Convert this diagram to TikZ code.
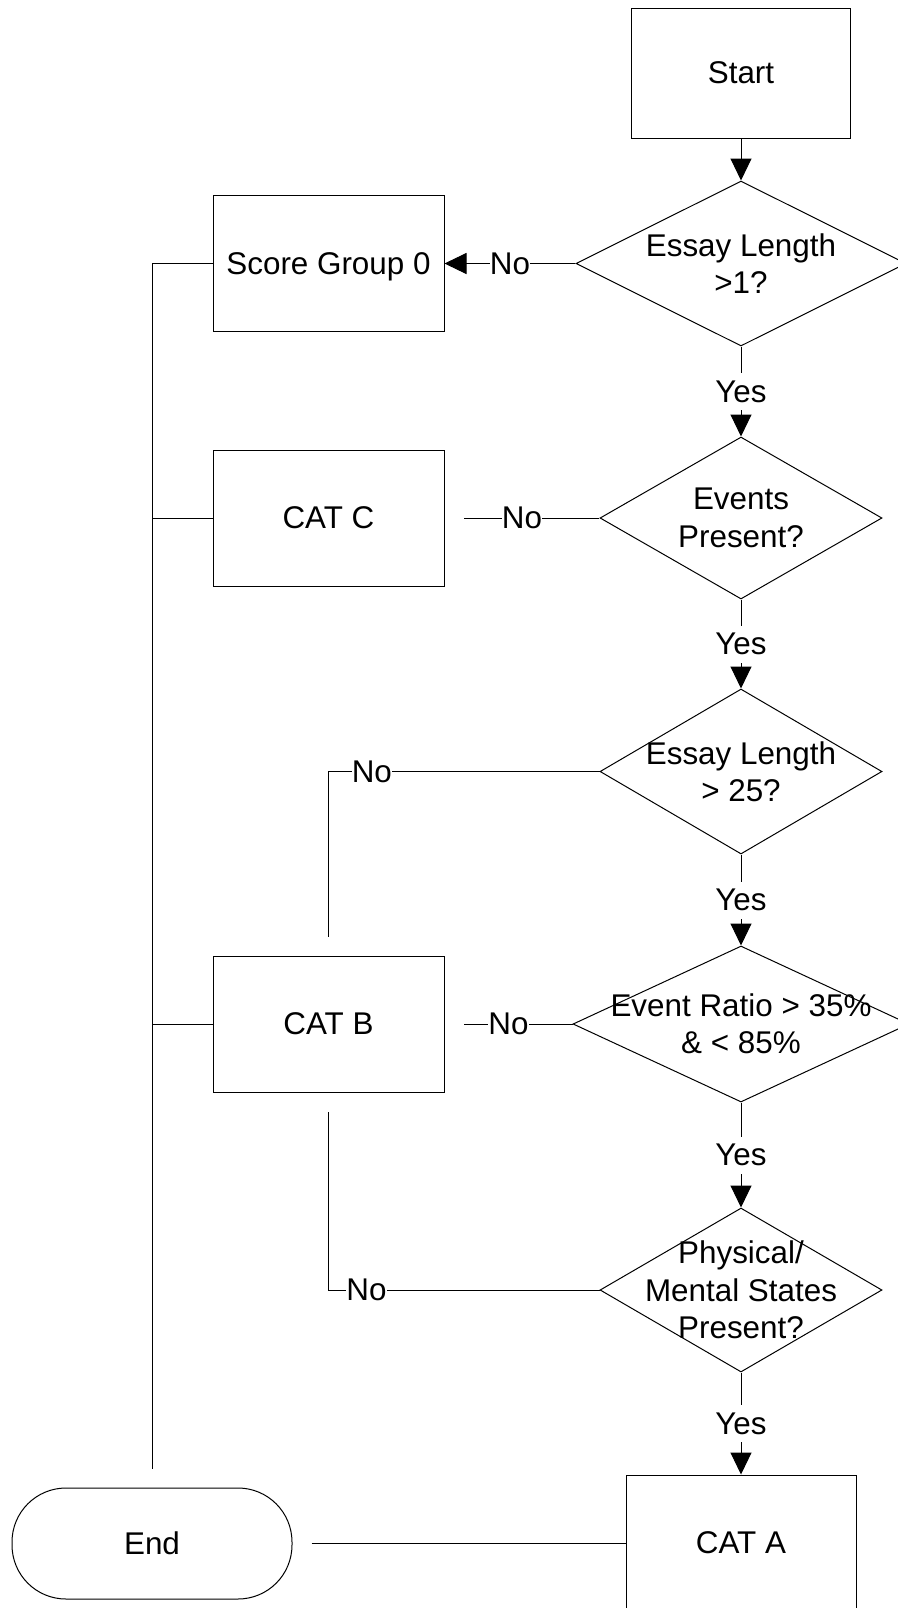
\documentclass[tikz,border=0pt]{standalone}
\usepackage{fontspec}
\setmainfont{Liberation Sans}
\usetikzlibrary{arrows.meta,shapes.geometric}
\newcommand{\flowfont}{\fontsize{15.7pt}{18.7pt}\selectfont}
\tikzset{
  box/.style={draw,minimum width=115.5pt,minimum height=68pt,inner sep=0pt,font=\flowfont,text depth=0pt},
  dec/.style={draw,diamond,inner sep=0pt,minimum width=141pt,minimum height=82pt},
  dtxt/.style={align=center,inner sep=0pt,font=\flowfont},
  term/.style={draw,rounded corners=27pt,minimum width=140pt,minimum height=55.5pt,font=\flowfont,text depth=0pt},
  lbl/.style={fill=white,inner xsep=0pt,inner ysep=0.5pt,font=\flowfont,text height=14.2pt,text depth=3.3pt},
  arr/.style={-{Triangle[length=11pt,width=10.5pt]}},
}
\begin{document}
\begin{tikzpicture}[x=0.5pt,y=-0.5pt,line width=0.5pt]
\path[fill=white] (0,0) rectangle (898,1608);
\useasboundingbox (0,0) rectangle (898,1608);
\node[box,minimum width=109.5pt,minimum height=65pt] (start) at (741,73) {Start};
\node[dec,minimum width=165pt,minimum height=82.5pt,label={[dtxt]center:Essay Length\\>1?}] (d1) at (741,263.5) {};
\node[box] (sg0) at (328.5,263.5) {Score Group 0};
\node[dec,minimum height=81pt,label={[dtxt]center:Events\\Present?}] (d2) at (741,518) {};
\node[box] (catc) at (328.5,518) {CAT C};
\node[dec,minimum height=82.5pt,label={[dtxt]center:Essay Length\\> 25?}] (d3) at (741,771.5) {};
\node[dec,minimum width=168pt,minimum height=78pt,label={[dtxt]center:Event Ratio > 35\%\\\& < 85\%}] (d4) at (741,1024) {};
\node[box] (catb) at (328.5,1024) {CAT B};
\node[dec,label={[dtxt]center:Physical/\\Mental States\\Present?}] (d5) at (741,1290) {};
\node[box,minimum width=115pt,minimum height=67.5pt] (cata) at (741,1542.5) {CAT A};
\node[term] (end) at (152,1543.5) {End};

\draw[arr] (start) -- (d1);
\draw[arr] (d1) -- node[lbl]{No} (sg0);
\draw[arr] (d1) -- node[lbl]{Yes} (d2);
\draw[shorten >=9.5pt] (d2) -- node[lbl]{No} (catc);
\draw[arr] (d2) -- node[lbl]{Yes} (d3);
\draw[shorten >=9.5pt] (d3.west) -| node[lbl,pos=0.42]{No} (catb.north);
\draw[arr] (d3) -- node[lbl]{Yes} (d4);
\draw[shorten >=9.5pt] (d4) -- node[lbl]{No} (catb);
\draw[arr] (d4) -- node[lbl]{Yes} (d5);
\draw[shorten >=9.5pt] (d5.west) -| node[lbl,pos=0.43]{No} (catb.south);
\draw[arr] (d5) -- node[lbl]{Yes} (cata);
\draw[shorten >=9.5pt] (sg0.west) -| (end.north);
\draw (catc.west) -- (catc.west -| end.north);
\draw (catb.west) -- (catb.west -| end.north);
\draw[shorten <=9.5pt] (end.east) -- (end.east -| cata.west);
\end{tikzpicture}
\end{document}
